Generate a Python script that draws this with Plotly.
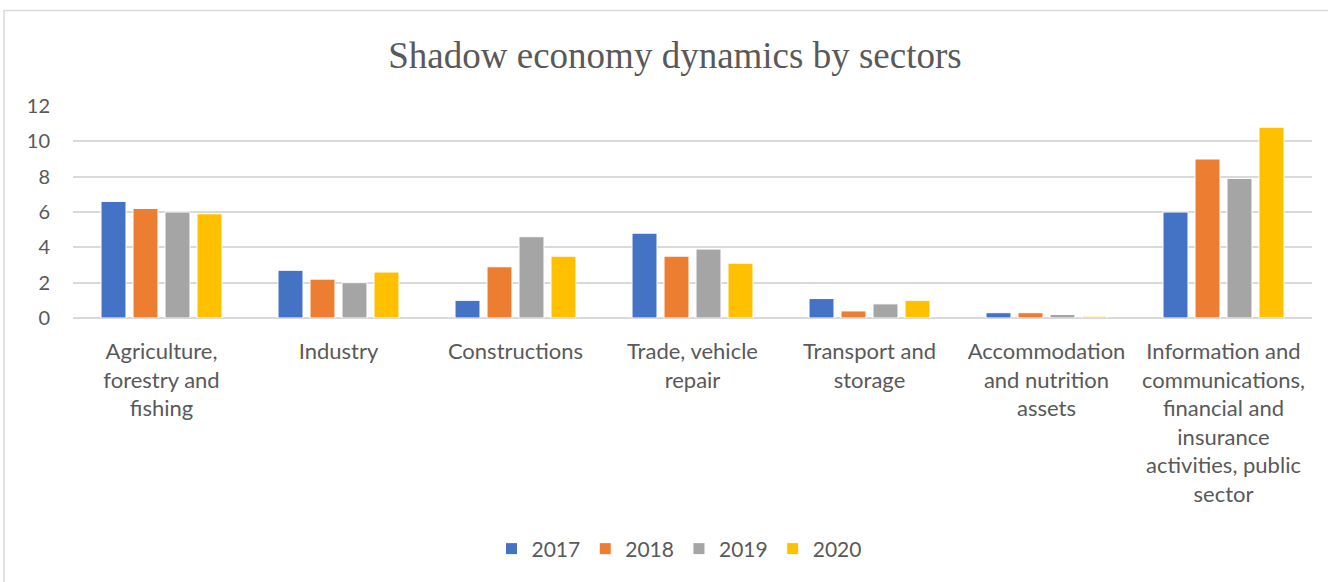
import plotly.graph_objects as go

sectors = [
    "Agriculture,<br>forestry and<br>fishing",
    "Industry",
    "Constructions",
    "Trade, vehicle<br>repair",
    "Transport and<br>storage",
    "Accommodation<br>and nutrition<br>assets",
    "Information and<br>communications,<br>financial and<br>insurance<br>activities, public<br>sector",
]
years = ["2017", "2018", "2019", "2020"]
v2017 = [6.6, 2.7, 1.0, 4.8, 1.1, 0.3, 6.0]
v2018 = [6.2, 2.2, 2.9, 3.5, 0.4, 0.3, 9.0]
v2019 = [6.0, 2.0, 4.6, 3.9, 0.8, 0.2, 7.9]
v2020 = [5.9, 2.6, 3.5, 3.1, 1.0, 0.1, 10.8]
series = [v2017, v2018, v2019, v2020]
colors = ["#4472C4", "#ED7D31", "#A5A5A5", "#FFC000"]

font_main = "Lato, Noto Sans, sans-serif"
txt = "#595959"

fig = go.Figure()
for name, vals, col in zip(years, series, colors):
    fig.add_trace(go.Bar(
        x=sectors, y=vals, name=name,
        marker=dict(color=col, line=dict(color="white", width=1)),
    ))

W, H = 1328, 582
ml, mr, mt, mb = 73, 16, 106, 264
pw, ph = W - ml - mr, H - mt - mb

def px_x(p):
    return (p - ml) / pw

def px_y(p):
    return 1 - (p - mt) / ph

fig.update_layout(
    width=W, height=H,
    margin=dict(l=ml, r=mr, t=mt, b=mb),
    paper_bgcolor="white", plot_bgcolor="white",
    barmode="group", bargap=0.277, bargroupgap=0.22,
    title=dict(
        text="Shadow economy dynamics by sectors",
        x=px_x(675), xanchor="center", xref="paper",
        y=1 - 55 / H, yanchor="middle", yref="container",
        font=dict(family="Liberation Serif, Times New Roman, serif", size=37, color=txt),
    ),
    xaxis=dict(
        showgrid=False, showline=False, ticks="",
        tickfont=dict(family=font_main, size=22, color=txt),
        tickangle=0, ticklabelstandoff=18,
    ),
    yaxis=dict(
        range=[0, 12], dtick=2, showgrid=True, gridcolor="#D9D9D9", gridwidth=1.5,
        zeroline=True, zerolinecolor="#D9D9D9", zerolinewidth=1.5,
        showline=False, ticks="",
        tickfont=dict(family=font_main, size=20, color=txt),
        ticklabelstandoff=22,
    ),
    legend=dict(
        orientation="h", x=px_x(679), xanchor="center",
        y=px_y(549), yanchor="middle", yref="paper",
        font=dict(family=font_main, size=21, color=txt),
        itemwidth=30, traceorder="normal",
    ),
    showlegend=True,
)

# outer chart frame
fig.add_shape(
    type="rect", xref="paper", yref="paper",
    x0=px_x(4), x1=px_x(W + 5), y0=px_y(H + 5), y1=px_y(10.5),
    line=dict(color="#D9D9D9", width=1.5), fillcolor="rgba(0,0,0,0)", layer="below",
)

fig.write_html("out.html")
